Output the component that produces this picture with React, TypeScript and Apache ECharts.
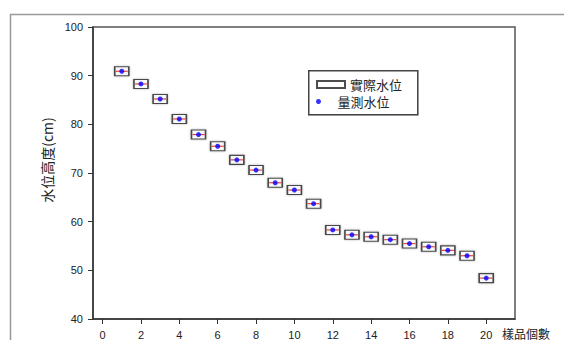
import React, { useEffect, useRef } from "react";
import * as echarts from "echarts";

const sampleIndex = [1, 2, 3, 4, 5, 6, 7, 8, 9, 10, 11, 12, 13, 14, 15, 16, 17, 18, 19, 20];
const actualLevel = [90.9, 88.3, 85.2, 81.1, 77.9, 75.5, 72.7, 70.6, 68.0, 66.5, 63.7, 58.3, 57.3, 56.9, 56.3, 55.5, 54.85, 54.1, 53.0, 48.4];
const measuredLevel = [90.9, 88.3, 85.2, 81.1, 77.9, 75.5, 72.7, 70.6, 68.0, 66.5, 63.7, 58.3, 57.3, 56.9, 56.3, 55.5, 54.85, 54.1, 53.0, 48.4];
const xTickValues = [0, 2, 4, 6, 8, 10, 12, 14, 16, 18, 20];
const seriesNames = ["實際水位", "量測水位"];
const yAxisTitle = "水位高度(cm)";
const xAxisTitle = "樣品個數";

const CJK = '"Noto Sans CJK TC", "Noto Sans CJK SC", sans-serif';
const LATIN = '"Liberation Sans", Arial, sans-serif';

export default function App() {
  const ref = useRef<HTMLDivElement>(null);
  useEffect(() => {
    if (!ref.current) return;
    const chart = echarts.init(ref.current, null, { renderer: "svg" });
    const actual = sampleIndex.map((x, i) => [x, actualLevel[i]]);
    const measured = sampleIndex.map((x, i) => [x, measuredLevel[i]]);
    chart.setOption({
      animation: false,
      backgroundColor: "#fff",
      grid: {
        left: 93,
        top: 27,
        right: 49,
        bottom: 20,
        show: true,
        borderColor: "#555",
        borderWidth: 1.5,
      },
      xAxis: {
        type: "value",
        min: -0.5,
        max: 21.5,
        splitLine: { show: false },
        axisLine: { onZero: false, lineStyle: { color: "#333", width: 1.5 } },
        axisTick: { show: true, length: 5, customValues: xTickValues, lineStyle: { color: "#333" } },
        axisLabel: {
          customValues: xTickValues,
          margin: 10,
          color: "#222",
          fontFamily: LATIN,
          fontSize: 11,
        },
      },
      yAxis: {
        type: "value",
        min: 40,
        max: 100,
        interval: 10,
        splitLine: { show: false },
        axisLine: { show: true, onZero: false, lineStyle: { color: "#333", width: 1.5 } },
        axisTick: { show: true, length: 5, lineStyle: { color: "#333" } },
        axisLabel: { margin: 10, color: "#222", fontFamily: LATIN, fontSize: 11 },
      },
      legend: [
        {
          data: [seriesNames[0]],
          left: 316,
          top: 78,
          itemWidth: 28,
          itemHeight: 7,
          padding: 0,
          textStyle: { fontFamily: CJK, fontSize: 13, color: "#222" },
        },
        {
          data: [{ name: seriesNames[1], icon: "circle" }],
          left: 316,
          top: 95,
          itemWidth: 28,
          itemHeight: 5,
          padding: 0,
          textStyle: { fontFamily: CJK, fontSize: 13, color: "#222" },
        },
      ],
      graphic: [
        {
          type: "rect",
          left: 8,
          top: 12,
          shape: { width: 620, height: 400 },
          style: { fill: "none", stroke: "#999", lineWidth: 1.5 },
          silent: true,
          z: -10,
        },
        {
          type: "rect",
          left: 308,
          top: 70,
          shape: { width: 109, height: 44 },
          style: { fill: "#fff", stroke: "#444", lineWidth: 1.5, shadowBlur: 1, shadowColor: "#aaa" },
          silent: true,
          z: -1,
        },
        {
          type: "text",
          x: 47,
          y: 160,
          rotation: Math.PI / 2,
          style: {
            text: yAxisTitle,
            fontFamily: CJK,
            fontSize: 14,
            fill: "#222",
            align: "center",
            verticalAlign: "middle",
          },
        },
        {
          type: "text",
          x: 502,
          y: 333,
          style: {
            text: xAxisTitle,
            fontFamily: CJK,
            fontSize: 12,
            fill: "#222",
            align: "left",
            verticalAlign: "middle",
          },
        },
      ],
      series: [
        {
          name: seriesNames[0],
          type: "scatter",
          data: actual,
          symbol: "rect",
          symbolSize: [14, 9],
          itemStyle: {
            color: "#fff",
            borderColor: "#222",
            borderWidth: 1.3,
            shadowBlur: 2,
            shadowColor: "rgba(0,0,0,0.35)",
          },
          z: 2,
        },
        {
          name: "line",
          type: "scatter",
          data: actual,
          symbol: "rect",
          symbolSize: [12, 1.2],
          itemStyle: { color: "#e01818" },
          z: 3,
        },
        {
          name: seriesNames[1],
          type: "scatter",
          data: measured,
          symbol: "circle",
          symbolSize: 5,
          itemStyle: { color: "#0000ff" },
          z: 4,
        },
      ],
    });
    return () => chart.dispose();
  }, []);
  return (
    <div
      ref={ref}
      style={{ position: "fixed", left: 0, top: 0, width: 564, height: 340 }}
    />
  );
}
